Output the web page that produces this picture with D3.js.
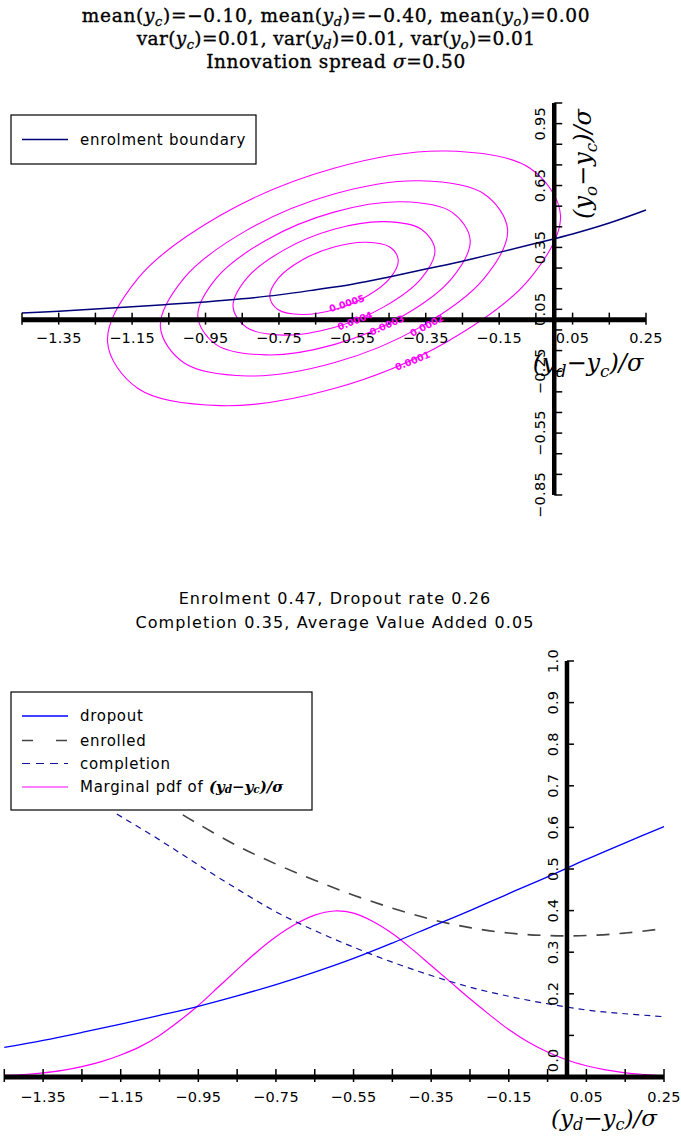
<!DOCTYPE html>
<html><head><meta charset="utf-8">
<script src="https://cdn.jsdelivr.net/npm/d3@7"></script>
<style>body{margin:0;background:#fff}svg{display:block}</style>
</head><body>
<svg id="chart" width="681" height="1139"></svg>
<script>
// ---------------- data ----------------
const xTickValues = [-1.45,-1.35,-1.25,-1.15,-1.05,-0.95,-0.85,-0.75,-0.65,-0.55,-0.45,-0.35,-0.25,-0.15,-0.05,0.05,0.15,0.25];
const xLabelValues = [-1.35,-1.15,-0.95,-0.75,-0.55,-0.35,-0.15,0.05,0.25];
const xLabels = ["−1.35","−1.15","−0.95","−0.75","−0.55","−0.35","−0.15","0.05","0.25"];
const topYTickValues = [-0.85,-0.75,-0.65,-0.55,-0.45,-0.35,-0.25,-0.15,-0.05,0.05,0.15,0.25,0.35,0.45,0.55,0.65,0.75,0.85,0.95,1.05];
const topYLabelValues = [0.95,0.65,0.35,0.05,-0.25,-0.55,-0.85];
const topYLabels = ["0.95","0.65","0.35","0.05","−0.25","−0.55","−0.85"];
const botYTickValues = [0,0.1,0.2,0.3,0.4,0.5,0.6,0.7,0.8,0.9,1.0];
const botYLabelValues = [0.04,0.2,0.3,0.4,0.5,0.6,0.7,0.8,0.9,1.0];
const botYLabels = ["0.0","0.2","0.3","0.4","0.5","0.6","0.7","0.8","0.9","1.0"];

// enrolment boundary (top panel)
const boundaryX = [-1.45,-1.35,-1.25,-1.15,-1.05,-0.95,-0.85,-0.75,-0.65,-0.55,-0.45,-0.35,-0.25,-0.15,-0.05,0.05,0.15,0.25];
const boundaryY = [0.032,0.041,0.051,0.062,0.074,0.086,0.101,0.120,0.145,0.172,0.207,0.245,0.283,0.326,0.370,0.415,0.468,0.531];

// density contours (top panel)
const contourLevels = ["0.0001","0.0002","0.0003","0.0004","0.0005"];
const contour1 = [[0.017,0.507],[-0.066,0.734],[-0.292,0.817],[-0.6,0.734],[-0.908,0.507],[-1.134,0.2],[-1.217,-0.107],[-1.134,-0.334],[-0.908,-0.417],[-0.6,-0.334],[-0.292,-0.107],[-0.066,0.2]];
const contour2 = [[-0.127,0.435],[-0.191,0.609],[-0.364,0.673],[-0.6,0.609],[-0.836,0.435],[-1.009,0.2],[-1.073,-0.035],[-1.009,-0.209],[-0.836,-0.273],[-0.6,-0.209],[-0.364,-0.035],[-0.191,0.2]];
const contour3 = [[-0.229,0.385],[-0.279,0.521],[-0.415,0.571],[-0.6,0.521],[-0.785,0.385],[-0.921,0.2],[-0.971,0.015],[-0.921,-0.121],[-0.785,-0.171],[-0.6,-0.121],[-0.415,0.015],[-0.279,0.2]];
const contour4 = [[-0.325,0.337],[-0.362,0.438],[-0.463,0.475],[-0.6,0.438],[-0.737,0.337],[-0.838,0.2],[-0.875,0.063],[-0.838,-0.038],[-0.737,-0.075],[-0.6,-0.038],[-0.463,0.063],[-0.362,0.2]];
const contour5 = [[-0.425,0.288],[-0.448,0.352],[-0.512,0.375],[-0.6,0.352],[-0.688,0.288],[-0.752,0.2],[-0.775,0.112],[-0.752,0.048],[-0.688,0.025],[-0.6,0.048],[-0.512,0.112],[-0.448,0.2]];
const contourLabelX = [-0.386,-0.347,-0.456,-0.543,-0.565];
const contourLabelY = [-0.199,-0.028,-0.026,-0.005,0.079];
const contourLabelAngle = [-22,-28,-24,-21,-18];

// bottom panel
const dropoutX = [-1.45,-1.35,-1.25,-1.15,-1.05,-0.95,-0.85,-0.75,-0.65,-0.55,-0.45,-0.35,-0.25,-0.15,-0.05,0.05,0.15,0.25];
const dropoutY = [0.071,0.088,0.107,0.127,0.148,0.170,0.195,0.222,0.252,0.285,0.322,0.361,0.400,0.441,0.481,0.523,0.563,0.602];
const enrolledX = [-0.99,-0.95,-0.85,-0.75,-0.65,-0.55,-0.45,-0.35,-0.25,-0.15,-0.05,0.05,0.15,0.25];
const enrolledY = [0.630,0.608,0.556,0.512,0.473,0.437,0.406,0.379,0.359,0.346,0.340,0.340,0.346,0.357];
const completionX = [-1.16,-1.05,-0.95,-0.85,-0.75,-0.65,-0.55,-0.45,-0.35,-0.25,-0.15,-0.05,0.05,0.15,0.25];
const completionY = [0.632,0.570,0.510,0.452,0.397,0.352,0.312,0.276,0.244,0.216,0.194,0.176,0.161,0.152,0.145];
const pdfX = [-1.45,-1.40,-1.35,-1.30,-1.25,-1.20,-1.15,-1.10,-1.05,-1.00,-0.95,-0.90,-0.85,-0.80,-0.75,-0.70,-0.65,-0.60,-0.55,-0.50,-0.45,-0.40,-0.35,-0.30,-0.25,-0.20,-0.15,-0.10,-0.05,0.00,0.05,0.10,0.15,0.20,0.25];
const pdfY = [0.004,0.006,0.010,0.016,0.025,0.037,0.053,0.073,0.100,0.134,0.172,0.215,0.258,0.300,0.337,0.367,0.389,0.399,0.394,0.374,0.345,0.308,0.268,0.228,0.188,0.150,0.114,0.084,0.060,0.041,0.027,0.017,0.010,0.006,0.003];

// ---------------- drawing ----------------
const SANS = "DejaVu Sans, sans-serif";
const SERIF = "DejaVu Serif, serif";
const svg = d3.select("#chart");

const xT = d3.scaleLinear().domain([-1.45,0.25]).range([22,646]);
const yT = d3.scaleLinear().domain([-0.85,1.05]).range([495,103]);
const xB = d3.scaleLinear().domain([-1.45,0.25]).range([4.3,664]);
const yB = d3.scaleLinear().domain([0,1]).range([1077,661]);

// math text helper: parts = [[text, style]] style: 'n' normal, 'i' italic, 's' italic subscript
function mathText(sel, parts, size, shift) {
  const sh = (shift === undefined ? 0.25 : shift) * size;
  let shifted = false;
  parts.forEach(([t, st]) => {
    const ts = sel.append("tspan").text(t);
    if (st === 's') {
      ts.attr("font-style","italic").attr("font-size", size*0.7).attr("dy", shifted ? 0 : sh);
      shifted = true;
    } else {
      if (st === 'i') ts.attr("font-style","italic");
      ts.attr("font-size", size);
      if (shifted) { ts.attr("dy", -sh); shifted = false; }
    }
  });
}

// ---- titles top ----
const tt = svg.append("g").attr("font-family", SERIF).attr("fill","#000").attr("text-anchor","middle")
  .attr("stroke","#000").attr("stroke-width",0.35);
const t1 = tt.append("text").attr("x",336).attr("y",22).attr("letter-spacing",0.7);
mathText(t1, [["mean(",'n'],["y",'i'],["c",'s'],[")=−0.10, mean(",'n'],["y",'i'],["d",'s'],[")=−0.40, mean(",'n'],["y",'i'],["o",'s'],[")=0.00",'n']], 18.5, 0.22);
const t2 = tt.append("text").attr("x",336).attr("y",45).attr("letter-spacing",0.4);
mathText(t2, [["var(",'n'],["y",'i'],["c",'s'],[")=0.01, var(",'n'],["y",'i'],["d",'s'],[")=0.01, var(",'n'],["y",'i'],["o",'s'],[")=0.01",'n']], 18.5, 0.22);
const t3 = tt.append("text").attr("x",336).attr("y",68).attr("letter-spacing",0.6);
mathText(t3, [["Innovation spread ",'n'],["σ",'i'],["=0.50",'n']], 18.5);

// ---- top panel ----
const gTop = svg.append("g");
const contourLine = d3.line().x(d=>xT(d[0])).y(d=>yT(d[1])).curve(d3.curveCatmullRomClosed.alpha(0.5));
[contour1,contour2,contour3,contour4,contour5].forEach(c => {
  gTop.append("path").attr("d", contourLine(c)).attr("fill","none").attr("stroke","#ff00ff").attr("stroke-width",1.1);
});
const bLine = d3.line().x((d,i)=>xT(boundaryX[i])).y((d,i)=>yT(boundaryY[i])).curve(d3.curveCatmullRom);
gTop.append("path").attr("d", bLine(boundaryX)).attr("fill","none").attr("stroke","#00007a").attr("stroke-width",1.5);

// top x axis
const axT = gTop.append("g");
axT.append("line").attr("x1",xT(-1.45)).attr("x2",xT(0.25)).attr("y1",yT(0)).attr("y2",yT(0)).attr("stroke","#000").attr("stroke-width",5);
axT.selectAll("line.t").data(xTickValues).join("line").attr("class","t")
  .attr("x1",d=>xT(d)).attr("x2",d=>xT(d)).attr("y1",yT(0)-7).attr("y2",yT(0)+5).attr("stroke","#000").attr("stroke-width",1.5);
axT.selectAll("text").data(xLabelValues).join("text")
  .attr("x",d=>xT(d)).attr("y",yT(0)+18).attr("dominant-baseline","central").attr("text-anchor","middle")
  .attr("font-family",SANS).attr("font-size",14.5).attr("letter-spacing",0.3).text((d,i)=>xLabels[i]);
// top y axis
const ayT = gTop.append("g");
ayT.append("line").attr("x1",xT(0)).attr("x2",xT(0)).attr("y1",yT(-0.85)).attr("y2",yT(1.05)).attr("stroke","#000").attr("stroke-width",4.5);
ayT.selectAll("line.t").data(topYTickValues).join("line").attr("class","t")
  .attr("x1",xT(0)).attr("x2",xT(0)+8).attr("y1",d=>yT(d)).attr("y2",d=>yT(d)).attr("stroke","#000").attr("stroke-width",1.5);
ayT.selectAll("text").data(topYLabelValues).join("text")
  .attr("transform",d=>`translate(${xT(0)-14},${yT(d)}) rotate(-90)`)
  .attr("dominant-baseline","central").attr("text-anchor","middle")
  .attr("font-family",SANS).attr("font-size",14.5).attr("letter-spacing",0.3).text((d,i)=>topYLabels[i]);

// contour labels
gTop.selectAll("text.cl").data(contourLevels).join("text").attr("class","cl")
  .attr("transform",(d,i)=>`translate(${xT(contourLabelX[i])},${yT(contourLabelY[i])}) rotate(${contourLabelAngle[i]})`)
  .attr("text-anchor","middle").attr("dominant-baseline","central")
  .attr("font-family",SANS).attr("font-weight","bold").attr("font-size",9.5).attr("fill","#ff00ff").text(d=>d);

// top legend
const lgT = gTop.append("g");
lgT.append("rect").attr("x",11).attr("y",115).attr("width",245).attr("height",49).attr("fill","#fff").attr("stroke","#000").attr("stroke-width",1.2);
lgT.append("line").attr("x1",22).attr("x2",68).attr("y1",139.5).attr("y2",139.5).attr("stroke","#00007a").attr("stroke-width",1.5);
lgT.append("text").attr("x",80).attr("y",139.5).attr("dominant-baseline","central").attr("font-family",SANS).attr("font-size",15).attr("letter-spacing",0.7).text("enrolment boundary");

// top axis titles
const ylabT = gTop.append("text").attr("transform",`translate(591,164) rotate(-90)`).attr("text-anchor","middle").attr("font-family",SERIF);
mathText(ylabT, [["(",'i'],["y",'i'],["o",'s'],["−",'n'],["y",'i'],["c",'s'],[")/σ",'i']], 24);
const xlabT = gTop.append("text").attr("x",588).attr("y",371).attr("text-anchor","middle").attr("font-family",SERIF);
mathText(xlabT, [["(",'i'],["y",'i'],["d",'s'],["−",'n'],["y",'i'],["c",'s'],[")/σ",'i']], 24);

// ---- bottom panel ----
const gB = svg.append("g");
const tb = gB.append("g").attr("font-family",SANS).attr("font-size",16).attr("text-anchor","middle").attr("letter-spacing",1.1);
tb.append("text").attr("x",335).attr("y",604).text("Enrolment 0.47, Dropout rate 0.26");
tb.append("text").attr("x",335).attr("y",628).text("Completion 0.35, Average Value Added 0.05");

function seriesLine(xs, ys) {
  return d3.line().x((d,i)=>xB(xs[i])).y((d,i)=>yB(ys[i])).curve(d3.curveCatmullRom)(xs);
}
gB.append("path").attr("d",seriesLine(pdfX,pdfY)).attr("fill","none").attr("stroke","#ff00ff").attr("stroke-width",1.2);
gB.append("path").attr("d",seriesLine(completionX,completionY)).attr("fill","none").attr("stroke","#10109a").attr("stroke-width",1.2).attr("stroke-dasharray","6,5");
gB.append("path").attr("d",seriesLine(enrolledX,enrolledY)).attr("fill","none").attr("stroke","#444").attr("stroke-width",1.6).attr("stroke-dasharray","13,10");
gB.append("path").attr("d",seriesLine(dropoutX,dropoutY)).attr("fill","none").attr("stroke","#0000ff").attr("stroke-width",1.3);

// bottom x axis
const axB = gB.append("g");
axB.append("line").attr("x1",xB(-1.45)).attr("x2",xB(0.25)).attr("y1",yB(0)).attr("y2",yB(0)).attr("stroke","#000").attr("stroke-width",5);
axB.selectAll("line.t").data(xTickValues).join("line").attr("class","t")
  .attr("x1",d=>xB(d)).attr("x2",d=>xB(d)).attr("y1",yB(0)-8).attr("y2",yB(0)+5).attr("stroke","#000").attr("stroke-width",1.5);
axB.selectAll("text").data(xLabelValues).join("text")
  .attr("x",d=>xB(d)).attr("y",yB(0)+20).attr("dominant-baseline","central").attr("text-anchor","middle")
  .attr("font-family",SANS).attr("font-size",14.5).attr("letter-spacing",0.3).text((d,i)=>xLabels[i]);
// bottom y axis
const ayB = gB.append("g");
ayB.append("line").attr("x1",xB(0)).attr("x2",xB(0)).attr("y1",yB(0)).attr("y2",yB(1)).attr("stroke","#000").attr("stroke-width",4.5);
ayB.selectAll("line.t").data(botYTickValues).join("line").attr("class","t")
  .attr("x1",xB(0)).attr("x2",xB(0)+7).attr("y1",d=>yB(d)).attr("y2",d=>yB(d)).attr("stroke","#000").attr("stroke-width",1.5);
ayB.selectAll("text").data(botYLabelValues).join("text")
  .attr("transform",d=>`translate(${xB(0)-14},${yB(d)}) rotate(-90)`)
  .attr("dominant-baseline","central").attr("text-anchor","middle")
  .attr("font-family",SANS).attr("font-size",14.5).attr("letter-spacing",0.3).text((d,i)=>botYLabels[i]);

// bottom legend
const lgB = gB.append("g");
lgB.append("rect").attr("x",11).attr("y",692).attr("width",301).attr("height",118).attr("fill","#fff").attr("stroke","#000").attr("stroke-width",1.2);
const legItems = [
  {name:"dropout", color:"#0000ff", dash:null, w:1.3},
  {name:"enrolled", color:"#444", dash:"11,23", w:1.6},
  {name:"completion", color:"#10109a", dash:"8,6", w:1.2},
  {name:"Marginal pdf of ", color:"#ff00ff", dash:null, w:1.2}
];
const legY = [716,740.5,763.5,787];
legItems.forEach((it,i) => {
  lgB.append("line").attr("x1",22).attr("x2",68).attr("y1",legY[i]).attr("y2",legY[i]).attr("stroke",it.color).attr("stroke-width",it.w).attr("stroke-dasharray",it.dash);
  const tx = lgB.append("text").attr("x",80).attr("y",legY[i]).attr("dominant-baseline","central").attr("font-family",SANS).attr("font-size",15).attr("letter-spacing",0.7);
  if (i < 3) tx.text(it.name);
  else {
    tx.append("tspan").text(it.name);
    const m = tx.append("tspan").attr("font-family",SERIF).attr("font-weight","bold").attr("letter-spacing",0);
    mathText(m, [["(",'i'],["y",'i'],["d",'s'],["−",'n'],["y",'i'],["c",'s'],[")/σ",'i']], 15, 0.15);
  }
});

// bottom x axis title
const xlabB = gB.append("text").attr("x",604).attr("y",1126).attr("text-anchor","middle").attr("font-family",SERIF);
mathText(xlabB, [["(",'i'],["y",'i'],["d",'s'],["−",'n'],["y",'i'],["c",'s'],[")/σ",'i']], 23, 0.18);
</script>
</body></html>
